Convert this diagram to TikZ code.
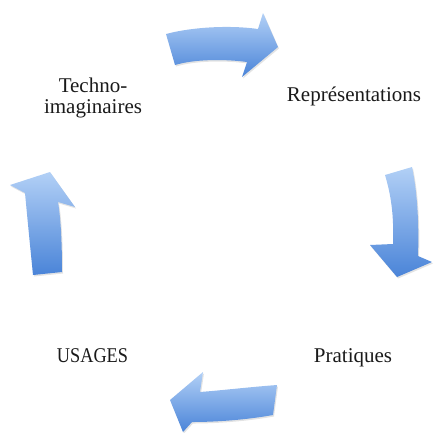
\documentclass[tikz,border=0pt]{standalone}
\usepackage{fontspec}
\setmainfont{Liberation Serif}
\usetikzlibrary{shadows}
\definecolor{arrowlight}{HTML}{B2D0F6}
\definecolor{arrowdark}{HTML}{4A84D8}
\definecolor{textgray}{HTML}{1A1A1A}
\tikzset{
  cyclearrow/.style={top color=arrowlight, bottom color=arrowdark, draw=none,
    drop shadow={shadow xshift=1pt, shadow yshift=-1.5pt, opacity=0.22}},
  label/.style={anchor=base, inner sep=0pt, text=textgray, font=\fontsize{21}{21}\selectfont}
}
\begin{document}
\begin{tikzpicture}[x=1pt, y=-1pt]
\useasboundingbox (0,0) rectangle (435,432);
% top arrow
\path[cyclearrow] (166,34) .. controls (192,27) and (230,25) .. (258,29)
  -- (263,13) -- (278,47) -- (242,77) -- (247,62)
  .. controls (225,59) and (195,59) .. (175,65) -- cycle;
% right arrow
\path[cyclearrow] (385,175) -- (412,167)
  .. controls (418,195) and (419,230) .. (418,256)
  -- (432,262) -- (397,277) -- (370,245) -- (393,244)
  .. controls (394,215) and (391,195) .. (385,175) -- cycle;
% bottom arrow
\path[cyclearrow] (277,385) -- (273,415)
  .. controls (245,420) and (215,422) .. (192,422)
  -- (183,432) -- (170,400) -- (203,372) -- (200,392)
  .. controls (225,390) and (250,387) .. (277,385) -- cycle;
% left arrow
\path[cyclearrow] (33,275) -- (62,272)
  .. controls (62,245) and (61,220) .. (58,202)
  -- (75,207) -- (50,172) -- (10,185) -- (25,193)
  .. controls (28,225) and (31,255) .. (33,275) -- cycle;
% labels
\node[label] (techno) at (93,92) {Techno-};
\node[label] (imag) at (93,113) {imaginaires};
\node[label] (repr) at (354,101) {Représentations};
\node[label, xscale=0.87] (usages) at (92.5,362) {USAGES};
\node[label] (prat) at (353,362) {Pratiques};
\end{tikzpicture}
\end{document}
